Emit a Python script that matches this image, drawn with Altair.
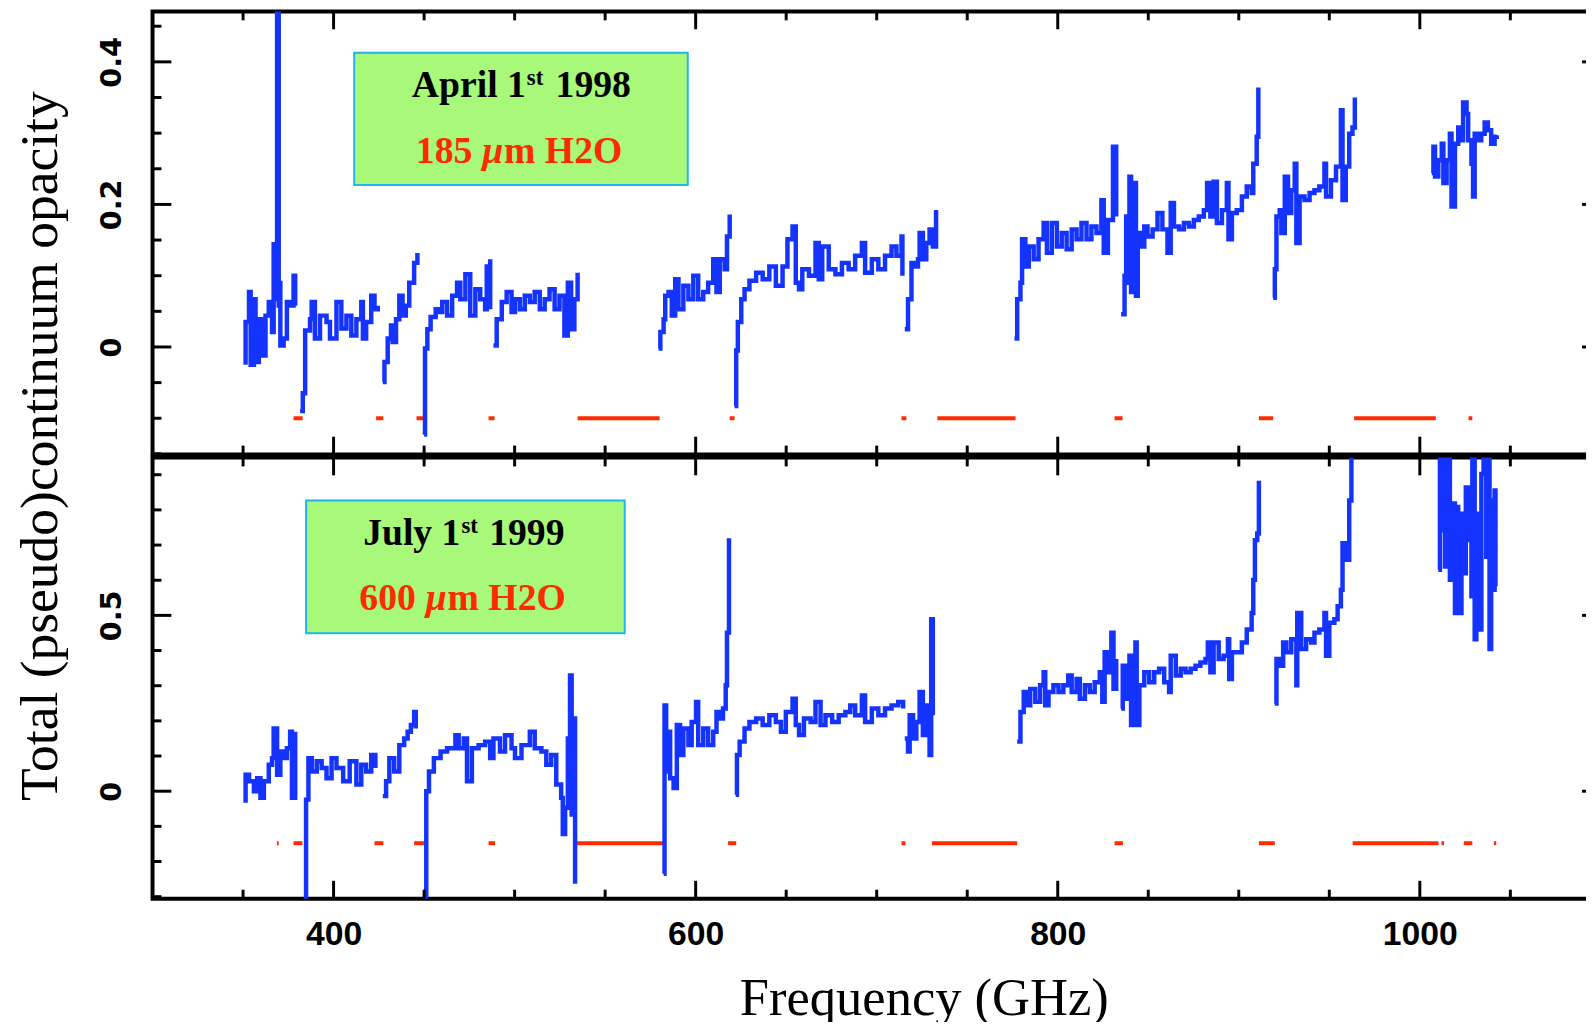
import altair as alt
import pandas as pd

# ---------------- data ----------------
# Top panel (April 1st 1998): segments of (frequency GHz, opacity)
top_1 = [(351.4, -0.025), (351.4, 0.035), (353.3, 0.077), (354.2, -0.025), (356.0, 0.067), (356.9, -0.021),
         (358.7, 0.039), (360.5, -0.012), (362.4, 0.044), (364.2, 0.063), (366.0, 0.021), (366.9, 0.144),
         (368.4, 0.067), (368.8, 0.47), (369.7, 0.058), (370.6, 0.093), (370.6, 0.002), (372.4, 0.012),
         (374.2, 0.063), (376.0, 0.058), (377.9, 0.100), (378.8, 0.058)]
top_2 = [(381.5, -0.090), (383.0, -0.065), (384.3, 0.023), (387.0, 0.039), (387.9, 0.063), (389.7, 0.012),
         (392.5, 0.044), (396.1, 0.035), (398.0, 0.012), (401.6, 0.063), (404.3, 0.026), (407.1, 0.044),
         (409.8, 0.016), (412.6, 0.039), (415.3, 0.063), (416.2, 0.012), (418.0, 0.035), (420.8, 0.072),
         (422.6, 0.053), (424.4, 0.058)]
top_3 = [(427.2, -0.049), (428.1, -0.021), (429.9, 0.012), (431.7, 0.030), (432.6, 0.007), (434.5, 0.039),
         (436.3, 0.072), (438.1, 0.044), (439.9, 0.058), (441.8, 0.090), (444.5, 0.118), (446.3, 0.132)]
top_4 = [(450.0, -0.123), (450.5, -0.002), (451.8, 0.025), (453.6, 0.042), (456.4, 0.053), (458.2, 0.049),
         (460.0, 0.063), (462.7, 0.044), (465.5, 0.072), (468.2, 0.090), (470.0, 0.067), (472.8, 0.102),
         (475.5, 0.044), (478.3, 0.081), (481.0, 0.067), (483.7, 0.053), (484.6, 0.113), (486.5, 0.123),
         (486.5, 0.053)]
top_5 = [(488.3, 0.002), (490.1, 0.039), (492.9, 0.063), (495.6, 0.077), (498.3, 0.049), (500.2, 0.067),
         (502.9, 0.053), (505.6, 0.072), (508.4, 0.063), (511.1, 0.077), (513.9, 0.053), (516.6, 0.067),
         (519.3, 0.081), (522.1, 0.053), (524.8, 0.072), (527.5, 0.016), (529.4, 0.090), (531.2, 0.025),
         (533.0, 0.067), (534.8, 0.104)]
top_6 = [(579.5, -0.002), (580.5, 0.021), (582.3, 0.039), (583.2, 0.072), (585.0, 0.077), (586.8, 0.044),
         (588.7, 0.095), (590.5, 0.053), (593.2, 0.086), (596.0, 0.067), (598.7, 0.100), (601.4, 0.067),
         (604.2, 0.077), (606.9, 0.090), (609.7, 0.123), (611.5, 0.077), (613.3, 0.123), (616.0, 0.109),
         (617.3, 0.155), (618.8, 0.186)]
top_7 = [(621.5, -0.083), (622.4, -0.005), (623.3, 0.035), (625.2, 0.067), (627.0, 0.081), (629.7, 0.093),
         (633.4, 0.104), (637.0, 0.095), (640.7, 0.113), (644.3, 0.086), (648.0, 0.113), (650.7, 0.151),
         (653.5, 0.169), (655.3, 0.090), (657.1, 0.081), (658.9, 0.109), (662.6, 0.100), (666.2, 0.146),
         (668.0, 0.095), (669.9, 0.141), (673.5, 0.109), (677.2, 0.102), (680.8, 0.118), (684.5, 0.109),
         (688.1, 0.128), (691.8, 0.146), (693.6, 0.104), (697.3, 0.123), (700.9, 0.109), (704.6, 0.128),
         (708.2, 0.141), (710.9, 0.128), (713.7, 0.155), (714.2, 0.100)]
top_8 = [(715.5, 0.025), (717.3, 0.067), (719.2, 0.118), (721.0, 0.113), (722.8, 0.123), (723.7, 0.160),
         (725.5, 0.123), (727.4, 0.146), (729.2, 0.165), (731.0, 0.141), (732.8, 0.192)]
top_9 = [(776.1, 0.012), (777.6, 0.067), (779.4, 0.090), (780.3, 0.151), (782.1, 0.113), (784.0, 0.141),
         (786.7, 0.123), (789.4, 0.151), (792.2, 0.174), (794.0, 0.132), (796.7, 0.174), (799.5, 0.141),
         (802.2, 0.160), (804.9, 0.137), (807.7, 0.165), (810.4, 0.151), (813.1, 0.174), (815.9, 0.151),
         (818.6, 0.169), (821.4, 0.160), (824.1, 0.206), (825.4, 0.132), (827.7, 0.178), (830.5, 0.281),
         (832.3, 0.225), (832.3, 0.183)]
top_10 = [(835.0, 0.046), (836.9, 0.100), (837.8, 0.183), (838.7, 0.090), (839.6, 0.239), (840.5, 0.077),
          (842.3, 0.230), (843.2, 0.072), (844.2, 0.160), (846.0, 0.141), (847.8, 0.169), (849.6, 0.155),
          (852.4, 0.165), (855.1, 0.188), (857.8, 0.165), (860.6, 0.132), (862.4, 0.202), (864.2, 0.169),
          (867.0, 0.165), (869.7, 0.174), (872.5, 0.169), (875.2, 0.178), (877.9, 0.183), (880.7, 0.192),
          (882.5, 0.230), (884.3, 0.183), (886.1, 0.232), (887.9, 0.174), (890.7, 0.192), (893.4, 0.230),
          (894.3, 0.151), (896.2, 0.188), (898.9, 0.192), (901.7, 0.211), (904.4, 0.225), (907.1, 0.216),
          (908.0, 0.257), (909.9, 0.295), (910.8, 0.364)]
top_11 = [(919.0, 0.069), (919.9, 0.109), (920.8, 0.183), (922.6, 0.192), (923.5, 0.160), (925.4, 0.239),
          (927.2, 0.188), (929.0, 0.220), (930.9, 0.257), (931.8, 0.146), (933.6, 0.211), (936.3, 0.206),
          (939.1, 0.216), (941.8, 0.220), (944.5, 0.225), (947.3, 0.257), (948.2, 0.211), (950.9, 0.234),
          (953.7, 0.253), (956.4, 0.332), (957.3, 0.206), (959.1, 0.253), (961.0, 0.299), (962.8, 0.308),
          (964.1, 0.350)]
top_12 = [(1006.6, 0.244), (1007.5, 0.281), (1008.4, 0.239), (1010.2, 0.262), (1012.1, 0.285), (1013.0, 0.230),
          (1014.8, 0.262), (1016.6, 0.299), (1017.5, 0.197), (1019.4, 0.285), (1021.2, 0.308), (1023.0, 0.290),
          (1023.9, 0.343), (1025.8, 0.327), (1026.7, 0.290), (1028.5, 0.257), (1029.4, 0.211), (1030.3, 0.299),
          (1032.1, 0.290), (1033.9, 0.299), (1035.8, 0.315), (1037.6, 0.304), (1039.4, 0.285), (1041.3, 0.295),
          (1042.5, 0.297)]

# Bottom panel (July 1st 1999)
bot_1 = [(351.4, -0.033), (351.4, 0.047), (353.3, 0.028), (356.0, 0.000), (357.8, 0.037), (359.6, -0.019),
         (361.5, 0.028), (364.2, 0.075), (366.0, 0.094), (366.9, 0.178), (368.8, 0.047), (370.6, 0.113),
         (372.4, 0.094), (374.2, 0.122), (376.0, 0.169), (377.0, -0.019), (378.8, 0.169)]
bot_2 = [(383.5, -0.305), (384.8, -0.024), (386.1, 0.094), (388.0, 0.056), (390.7, 0.085), (393.4, 0.066),
         (396.1, 0.037), (398.9, 0.094), (401.6, 0.066), (405.3, 0.028), (408.9, 0.085), (412.6, 0.019),
         (415.3, 0.075), (418.0, 0.056), (420.8, 0.103), (423.1, 0.066)]
bot_3 = [(427.2, -0.014), (429.0, 0.028), (430.8, 0.094), (433.5, 0.056), (436.3, 0.131), (439.0, 0.150),
         (440.9, 0.169), (442.7, 0.188), (444.5, 0.225), (445.4, 0.178)]
bot_4 = [(450.3, -0.305), (451.2, 0.000), (452.7, 0.056), (455.4, 0.094), (459.1, 0.113), (462.7, 0.122),
         (467.3, 0.159), (469.1, 0.122), (471.9, 0.150), (473.7, 0.028), (476.4, 0.122), (480.1, 0.131),
         (483.7, 0.141), (486.5, 0.094), (488.3, 0.150), (491.9, 0.113), (494.7, 0.159), (498.3, 0.122),
         (500.2, 0.094), (503.8, 0.131), (508.4, 0.169), (511.1, 0.122), (514.8, 0.113), (517.5, 0.075),
         (520.2, 0.103), (523.0, 0.019), (525.7, -0.019), (526.6, -0.122), (527.9, -0.047), (529.4, 0.150),
         (530.6, 0.329), (531.5, -0.066), (532.6, 0.207), (533.4, -0.263)]
bot_6 = [(582.3, -0.235), (582.8, 0.244), (583.7, 0.056), (585.0, 0.169), (585.9, 0.037), (587.8, 0.009),
         (589.6, 0.188), (591.4, 0.103), (593.2, 0.178), (596.0, 0.131), (597.8, 0.197), (600.2, 0.254),
         (601.4, 0.131), (604.2, 0.178), (606.9, 0.131), (609.7, 0.169), (611.5, 0.225), (613.3, 0.207),
         (615.1, 0.235), (616.6, 0.301), (617.3, 0.451), (618.4, 0.719)]
bot_7 = [(622.1, -0.010), (622.8, 0.103), (624.3, 0.141), (627.0, 0.178), (629.7, 0.197), (633.4, 0.207),
         (637.0, 0.188), (640.7, 0.216), (644.3, 0.197), (647.1, 0.169), (649.8, 0.225), (653.5, 0.263),
         (655.3, 0.188), (657.1, 0.160), (659.8, 0.207), (663.5, 0.197), (666.2, 0.254), (669.0, 0.188),
         (671.7, 0.216), (675.4, 0.197), (679.0, 0.216), (682.7, 0.225), (685.4, 0.244), (688.1, 0.216),
         (691.8, 0.272), (693.6, 0.197), (697.3, 0.235), (700.9, 0.216), (704.6, 0.235), (708.2, 0.244),
         (711.9, 0.254), (714.6, 0.235)]
bot_8 = [(715.5, 0.150), (717.3, 0.113), (718.2, 0.216), (720.1, 0.150), (721.9, 0.197), (723.7, 0.282),
         (725.5, 0.160), (727.4, 0.244), (729.2, 0.103), (730.1, 0.489), (731.0, 0.216)]
bot_9 = [(777.6, 0.141), (779.4, 0.225), (781.2, 0.282), (783.0, 0.244), (784.8, 0.291), (787.6, 0.254),
         (790.3, 0.301), (792.2, 0.338), (793.1, 0.244), (794.9, 0.282), (797.6, 0.301), (800.4, 0.282),
         (803.1, 0.301), (805.8, 0.329), (807.7, 0.282), (810.4, 0.319), (812.2, 0.263), (815.0, 0.301),
         (817.7, 0.282), (820.4, 0.310), (823.2, 0.338), (824.6, 0.254), (825.9, 0.395), (827.7, 0.338),
         (829.6, 0.451), (830.8, 0.291), (832.3, 0.376)]
bot_10 = [(835.0, 0.235), (835.9, 0.357), (837.8, 0.263), (839.6, 0.385), (840.5, 0.188), (841.4, 0.338),
          (842.9, 0.423), (843.6, 0.188), (845.1, 0.301), (847.8, 0.338), (850.5, 0.310), (853.3, 0.338),
          (856.0, 0.348), (858.8, 0.310), (861.5, 0.282), (862.4, 0.385), (865.2, 0.329), (867.9, 0.348),
          (870.6, 0.338), (873.4, 0.348), (876.1, 0.357), (878.8, 0.366), (881.6, 0.376), (882.9, 0.423),
          (884.3, 0.338), (886.1, 0.423), (888.9, 0.376), (891.6, 0.385), (894.0, 0.432), (894.7, 0.319),
          (896.2, 0.395), (898.9, 0.395), (901.7, 0.423), (904.4, 0.460), (907.1, 0.507), (908.0, 0.601),
          (908.9, 0.714), (910.2, 0.733), (911.1, 0.883)]
bot_11 = [(919.9, 0.249), (920.8, 0.376), (922.6, 0.357), (924.5, 0.423), (926.3, 0.395), (929.0, 0.432),
          (931.8, 0.301), (932.3, 0.507), (934.5, 0.404), (937.2, 0.432), (940.0, 0.423), (941.8, 0.451),
          (944.5, 0.460), (947.3, 0.507), (948.2, 0.385), (950.0, 0.479), (952.8, 0.489), (954.6, 0.526),
          (956.4, 0.573), (957.3, 0.705), (959.1, 0.658), (961.0, 0.827), (962.2, 0.948)]
bot_12 = [(1010.2, 0.630), (1011.1, 0.948), (1013.0, 0.742), (1013.9, 0.639), (1014.8, 0.948), (1016.6, 0.601),
          (1017.5, 0.818), (1019.4, 0.507), (1020.3, 0.808), (1021.2, 0.620), (1022.1, 0.507), (1023.0, 0.789),
          (1023.9, 0.620), (1025.4, 0.864), (1026.7, 0.714), (1028.5, 0.554), (1029.0, 0.948), (1030.3, 0.432),
          (1031.2, 0.789), (1032.7, 0.460), (1034.0, 0.902), (1035.2, 0.948), (1036.7, 0.667), (1037.6, 0.948),
          (1038.5, 0.404), (1039.4, 0.827), (1040.4, 0.573), (1041.3, 0.855), (1041.8, 0.583)]

# red H2O-line markers (start / end frequencies) and their level
top_dash_start = [377.9, 423.5, 445.8, 485.6, 534.8, 618.8, 713.7, 733.5, 831.4, 911.1, 963.7, 1026.9]
top_dash_end = [382.9, 427.5, 450.5, 488.9, 580.1, 621.5, 716.4, 776.7, 835.8, 919.0, 1008.8, 1029.0]
top_dash_level = -0.10
bot_dash_start = [368.7, 377.9, 422.6, 444.5, 485.6, 533.0, 617.9, 713.7, 730.5, 831.4, 911.1, 962.9,
                  1012.0, 1024.3, 1040.9]
bot_dash_end = [369.7, 382.8, 427.5, 450.9, 489.2, 582.3, 622.4, 715.9, 777.6, 836.0, 919.9, 1010.3,
                1013.4, 1029.0, 1042.2]
bot_dash_level = -0.148

# ticks and labels
x_label_values = [400, 600, 800, 1000]
x_major_ticks = [400, 600, 800, 1000]
x_minor_ticks = [350, 450, 500, 550, 650, 700, 750, 850, 900, 950, 1050]
top_y_labels = [0, 0.2, 0.4]
top_y_major = [0.0, 0.2, 0.4]
top_y_minor = [-0.15, -0.1, -0.05, 0.05, 0.1, 0.15, 0.25, 0.3, 0.35, 0.45]
bot_y_labels = [0, 0.5]
bot_y_major = [0.0, 0.5]
bot_y_minor = [-0.3, -0.2, -0.1, 0.1, 0.2, 0.3, 0.4, 0.6, 0.7, 0.8, 0.9]

# ---------------- styling / layout ----------------
X_DOMAIN = [300, 1100]
TOP_DOMAIN = [-0.1509, 0.4708]
BOT_DOMAIN = [-0.3056, 0.9490]
W = 1461
H_TOP = 447
H_BOT = 445
BLUE = "#1433ff"
RED = "#ff2a00"
GREEN = "#a8f87a"
CYAN = "#1fb3f0"
SERIF = "Liberation Serif"


def seg_frame(segs):
    rows = []
    for s, pts in enumerate(segs):
        for f, v in pts:
            rows.append({"freq": f, "val": v, "seg": s, "i": len(rows)})
    return pd.DataFrame(rows)


def panel(segs, d0, d1, level, ydom, h, ymaj, ymin, ylabels, box, texts, bottom):
    xs = alt.Scale(domain=X_DOMAIN, nice=False, zero=False)
    ys = alt.Scale(domain=ydom, nice=False, zero=False)
    one = pd.DataFrame({"k": [0]})
    layers = []

    yaxis = alt.Axis(
        orient="left",
        values=ylabels, format="~g", ticks=False, tickSize=0, domain=False, grid=False,
        labelAngle=270, labelAlign="center", labelBaseline="middle", labelPadding=41,
        labelFlush=False, labelOverlap=False,
        labelFont="DejaVu Sans", labelFontWeight="bold", labelFontSize=29, labelColor="black",
        title=None if bottom else "Total (pseudo)continuum opacity",
        titleFont=SERIF, titleFontSize=54, titleFontWeight="normal", titleColor="black",
        titleAngle=270, titleAlign="center", titleBaseline="alphabetic",
        titleX=-97, titleY=438, titleLimit=3000)
    if bottom:
        xaxis = alt.Axis(
            orient="bottom",
            values=x_label_values, format="d", ticks=False, tickSize=0, domain=False, grid=False,
            labelAngle=0, labelBaseline="top", labelPadding=19.5, labelFlush=False, labelOverlap=False,
            labelFont="Liberation Sans", labelFontWeight="bold", labelFontSize=34, labelColor="black",
            title="Frequency (GHz)", titleFont=SERIF, titleFontSize=53, titleFontWeight="normal",
            titleColor="black", titleAlign="center", titleBaseline="alphabetic",
            titleX=778, titleY=117, titleLimit=3000)
    else:
        xaxis = None

    # spectrum (carries the axes)
    df = seg_frame(segs)
    line = alt.Chart(df).mark_line(
        color=BLUE, strokeWidth=4.5, interpolate="step-after", clip=True).encode(
        x=alt.X("freq:Q", scale=xs, axis=xaxis),
        y=alt.Y("val:Q", scale=ys, axis=yaxis),
        detail="seg:N", order="i:Q")

    layers.append(alt.Chart(one).mark_rect(fill=GREEN, stroke=CYAN, strokeWidth=2).encode(
        x=alt.value(box[0]), x2=alt.value(box[1]), y=alt.value(box[2]), y2=alt.value(box[3])))
    for txt, px, py, size, color, align, style in texts:
        layers.append(alt.Chart(one).mark_text(
            text=txt, font=SERIF, fontSize=size, fontWeight="bold", fontStyle=style,
            color=color, align=align, baseline="alphabetic").encode(x=alt.value(px), y=alt.value(py)))

    dash = pd.DataFrame({"a": d0, "b": d1, "y": [level] * len(d0)})
    layers.append(alt.Chart(dash).mark_rule(color=RED, strokeWidth=4).encode(
        x=alt.X("a:Q", scale=xs, axis=None), x2="b:Q",
        y=alt.Y("y:Q", scale=ys, axis=None)))

    layers.append(line)

    # inward ticks on all four edges
    for vals, ln in ((x_major_ticks, 18), (x_minor_ticks, 9)):
        tdf = pd.DataFrame({"t": vals})
        base = alt.Chart(tdf).mark_rule(color="black", strokeWidth=3)
        layers.append(base.encode(x=alt.X("t:Q", scale=xs, axis=None), y=alt.value(0), y2=alt.value(ln)))
        layers.append(base.encode(x=alt.X("t:Q", scale=xs, axis=None), y=alt.value(h), y2=alt.value(h - ln)))
    for vals, ln in ((ymaj, 19), (ymin, 9)):
        tdf = pd.DataFrame({"t": vals})
        base = alt.Chart(tdf).mark_rule(color="black", strokeWidth=3)
        layers.append(base.encode(y=alt.Y("t:Q", scale=ys, axis=None), x=alt.value(0), x2=alt.value(ln)))
        layers.append(base.encode(y=alt.Y("t:Q", scale=ys, axis=None), x=alt.value(W), x2=alt.value(W - ln)))

    return alt.layer(*layers).resolve_axis(x="independent", y="independent").properties(width=W, height=h)


top_texts = [
    ("April 1", 376.6, 86.7, 38, "black", "right", "normal"),
    ("st", 377.6, 74.3, 23, "black", "left", "normal"),
    ("1998", 406.6, 86.7, 38, "black", "left", "normal"),
    ("185", 322.6, 153.3, 38, RED, "right", "normal"),
    ("\u03bc", 332.6, 153.3, 38, RED, "left", "italic"),
    ("m H2O", 354.6, 153.3, 38, RED, "left", "normal"),
]
bot_texts = [
    ("July 1", 310.6, 88.3, 38, "black", "right", "normal"),
    ("st", 311.6, 76.3, 23, "black", "left", "normal"),
    ("1999", 339.6, 88.3, 38, "black", "left", "normal"),
    ("600", 265.6, 154.3, 38, RED, "right", "normal"),
    ("\u03bc", 275.6, 154.3, 38, RED, "left", "italic"),
    ("m H2O", 297.6, 154.3, 38, RED, "left", "normal"),
]

top = panel([top_1, top_2, top_3, top_4, top_5, top_6, top_7, top_8, top_9, top_10, top_11, top_12],
            top_dash_start, top_dash_end, top_dash_level, TOP_DOMAIN, H_TOP,
            top_y_major, top_y_minor, top_y_labels, (203.4, 539.9, 41.8, 175.0), top_texts, False)
bot = panel([bot_1, bot_2, bot_3, bot_4, bot_6, bot_7, bot_8, bot_9, bot_10, bot_11, bot_12],
            bot_dash_start, bot_dash_end, bot_dash_level, BOT_DOMAIN, H_BOT,
            bot_y_major, bot_y_minor, bot_y_labels, (154.9, 476.3, 43.3, 177.3), bot_texts, True)

chart = alt.vconcat(top, bot, spacing=3, bounds="flush").properties(
    padding={"left": 2.8, "top": -5, "right": -19, "bottom": -10.5},
    background="white",
).configure_view(stroke="black", strokeWidth=4)

chart.save("out.html", embed_options={"renderer": "svg", "actions": False})
